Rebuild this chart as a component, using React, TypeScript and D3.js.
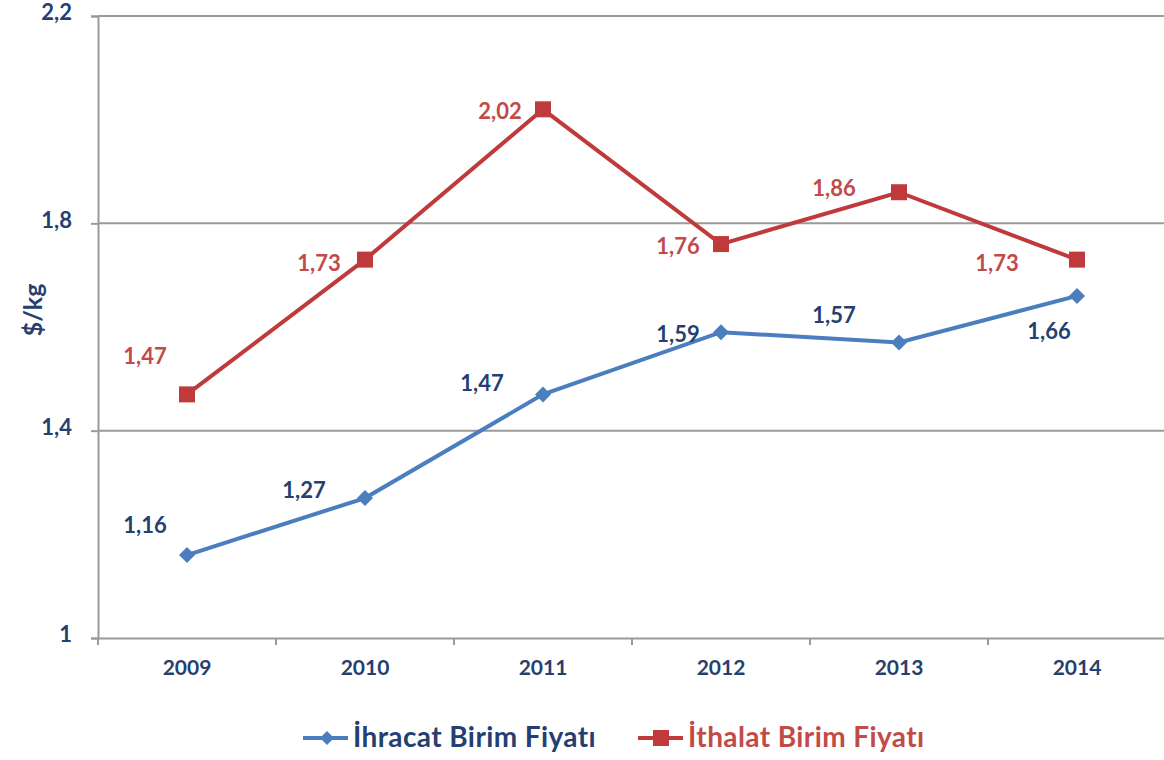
import React, { useEffect, useRef } from 'react';
import * as d3 from 'd3';

const years = ['2009', '2010', '2011', '2012', '2013', '2014'];
const ihracat = [1.16, 1.27, 1.47, 1.59, 1.57, 1.66];
const ithalat = [1.47, 1.73, 2.02, 1.76, 1.86, 1.73];
const yTicks = [1, 1.4, 1.8, 2.2];
const seriesNames = ['İhracat Birim Fiyatı', 'İthalat Birim Fiyatı'];

// label offsets (dx, dy) relative to each point
const ihrOffsets = [[-42, -31], [-61, -9], [-61, -12], [-43, 1], [-65, -28], [-28, 35]];
const ithOffsets = [[-42, -39], [-46, 3], [-43, 1], [-43, 1], [-65, -5], [-80, 3]];

const font = 'Lato, "Open Sans", sans-serif';
const navy = '#253f70';
const blue = '#4a7ebf';
const red = '#c0393b';
const redText = '#c24a48';

// square-ish diamond like the office marker
const diamond = (r: number) => `M0,${-r}L${r},0L0,${r}L${-r},0Z`;

export default function App() {
  const ref = useRef<SVGSVGElement>(null);

  useEffect(() => {
    const svg = d3.select(ref.current);
    svg.selectAll('*').remove();

    const left = 98;
    const x = d3.scaleBand().domain(years).range([left, left + 178 * 6]);
    const y = d3.scaleLinear().domain([1, 2.2]).range([638, 16]);
    const cx = (d: string) => (x(d) as number) + x.bandwidth() / 2;

    // gridlines
    svg.append('g')
      .selectAll('line')
      .data(yTicks.slice(1))
      .enter()
      .append('line')
      .attr('x1', left)
      .attr('x2', 1164)
      .attr('y1', d => y(d))
      .attr('y2', d => y(d))
      .attr('stroke', '#9a9a9a')
      .attr('stroke-width', 2);

    const yAxis = d3.axisLeft(y).tickValues(yTicks).tickSize(7).tickPadding(19)
      .tickFormat(d => String(d).replace('.', ','));
    const yg = svg.append('g').attr('transform', `translate(${left},0)`).call(yAxis);
    yg.select('.domain').attr('stroke', '#9a9a9a').attr('stroke-width', 2);
    yg.selectAll('.tick line').attr('stroke', '#9a9a9a').attr('stroke-width', 2);
    yg.selectAll('.tick text')
      .attr('fill', navy)
      .attr('font-family', font)
      .attr('font-weight', 700)
      .attr('font-size', 22)
      .attr('dy', '0.18em');

    const xAxis = d3.axisBottom(x).tickSize(0).tickPadding(22);
    const xg = svg.append('g').attr('transform', `translate(0,${y(1)})`).call(xAxis);
    xg.select('.domain').attr('stroke', '#9a9a9a').attr('stroke-width', 2);
    xg.selectAll('.tick text')
      .attr('fill', navy)
      .attr('font-family', font)
      .attr('font-weight', 700)
      .attr('font-size', 21);
    // tick marks between categories
    xg.selectAll('line.sep')
      .data(years.concat(['end']))
      .enter()
      .append('line')
      .attr('class', 'sep')
      .attr('x1', (d, i) => left + x.step() * i)
      .attr('x2', (d, i) => left + x.step() * i)
      .attr('y1', 0)
      .attr('y2', 7)
      .attr('stroke', '#9a9a9a')
      .attr('stroke-width', 2);

    svg.append('text')
      .attr('transform', 'translate(42,310) rotate(-90)')
      .attr('text-anchor', 'middle')
      .attr('fill', navy)
      .attr('font-family', font)
      .attr('font-weight', 700)
      .attr('font-size', 25)
      .text('$/kg');

    const line = d3.line<number>().x((d, i) => cx(years[i])).y(d => y(d));

    // ithalat (red)
    svg.append('path').datum(ithalat).attr('d', line).attr('fill', 'none')
      .attr('stroke', red).attr('stroke-width', 4);
    svg.selectAll('rect.ith').data(ithalat).enter().append('rect')
      .attr('class', 'ith')
      .attr('x', (d, i) => cx(years[i]) - 8)
      .attr('y', d => y(d) - 8)
      .attr('width', 16).attr('height', 16).attr('fill', red);

    // ihracat (blue)
    svg.append('path').datum(ihracat).attr('d', line).attr('fill', 'none')
      .attr('stroke', blue).attr('stroke-width', 4);
    svg.selectAll('path.ihr').data(ihracat).enter().append('path')
      .attr('class', 'ihr')
      .attr('d', diamond(8))
      .attr('transform', (d, i) => `translate(${cx(years[i])},${y(d)})`)
      .attr('fill', blue);

    const label = (data: number[], offs: number[][], color: string) => {
      svg.append('g').selectAll('text').data(data).enter().append('text')
        .attr('x', (d, i) => cx(years[i]) + offs[i][0])
        .attr('y', (d, i) => y(d) + offs[i][1])
        .attr('text-anchor', 'middle')
        .attr('dominant-baseline', 'central')
        .attr('fill', color)
        .attr('font-family', font)
        .attr('font-weight', 700)
        .attr('font-size', 22)
        .text(d => d.toFixed(2).replace('.', ','));
    };
    label(ithalat, ithOffsets, redText);
    label(ihracat, ihrOffsets, navy);

    // legend
    const lg = svg.append('g').attr('transform', 'translate(0,738)');
    const items = [
      { name: seriesNames[0], color: blue, text: navy, x: 303, shape: 'diamond' },
      { name: seriesNames[1], color: red, text: redText, x: 638, shape: 'square' },
    ];
    items.forEach(it => {
      lg.append('line').attr('x1', it.x).attr('x2', it.x + 45).attr('y1', 0).attr('y2', 0)
        .attr('stroke', it.color).attr('stroke-width', 4);
      if (it.shape === 'diamond') {
        lg.append('path').attr('d', diamond(7))
          .attr('transform', `translate(${it.x + 24},0)`).attr('fill', it.color);
      } else {
        lg.append('rect').attr('x', it.x + 15).attr('y', -8).attr('width', 16).attr('height', 16)
          .attr('fill', it.color);
      }
      lg.append('text').attr('x', it.x + 50).attr('y', -2)
        .attr('dominant-baseline', 'central')
        .attr('fill', it.text)
        .attr('font-family', font)
        .attr('font-weight', 700)
        .attr('font-size', 28)
        .attr('letter-spacing', 0.4)
        .text(it.name);
    });
  }, []);

  return (
    <svg ref={ref} width={1164} height={760}
      style={{ position: 'absolute', left: 0, top: 0, background: '#fff' }} />
  );
}
